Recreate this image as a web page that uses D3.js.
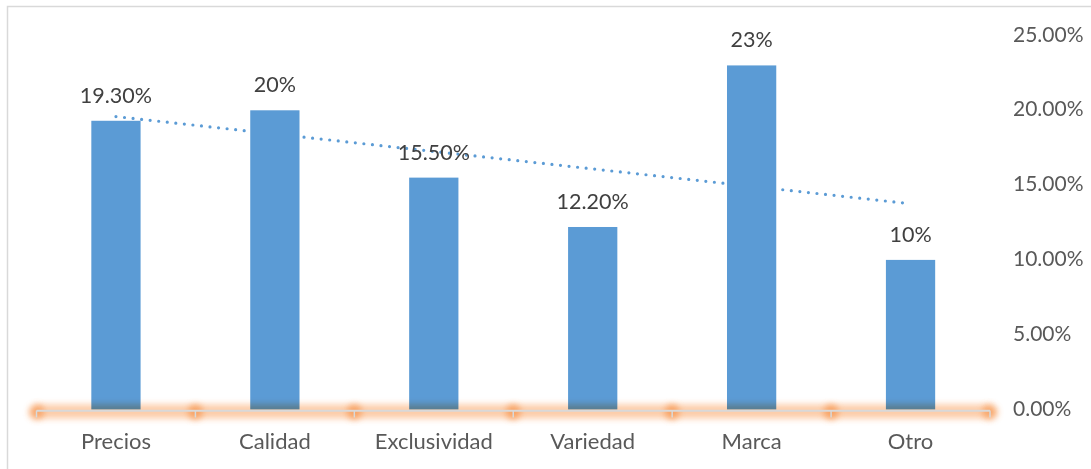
<!DOCTYPE html>
<html>
<head>
<meta charset="utf-8">
<script src="https://cdn.jsdelivr.net/npm/d3@7"></script>
<style>
  body { margin: 0; background: #fff; }
  svg { display: block; font-family: Lato, "Open Sans", sans-serif; }
</style>
</head>
<body>
<svg id="chart"></svg>
<script>
// data
var categories = ["Precios", "Calidad", "Exclusividad", "Variedad", "Marca", "Otro"];
var values = [0.193, 0.20, 0.155, 0.122, 0.23, 0.10];
var valueLabels = ["19.30%", "20%", "15.50%", "12.20%", "23%", "10%"];
var yTicks = [0, 0.05, 0.10, 0.15, 0.20, 0.25];

var W = 1091, H = 469;
var svg = d3.select("#chart").attr("width", W).attr("height", H);

// outer frame
svg.append("rect")
    .attr("x", 7.5).attr("y", 6.5)
    .attr("width", W + 20).attr("height", H + 20)
    .style("fill", "#fff")
    .style("stroke", "#d9d9d9")
    .style("stroke-width", 1.5);

var x = d3.scaleBand()
    .domain(categories)
    .range([36.5, 990])
    .paddingInner(0.69)
    .paddingOuter(0.345);

var y = d3.scaleLinear()
    .domain([0, 0.25])
    .range([409.5, 35.5]);

var defs = svg.append("defs");
var blur = defs.append("filter").attr("id", "glow")
    .attr("filterUnits", "userSpaceOnUse")
    .attr("x", 0).attr("y", 370).attr("width", W).attr("height", 80);
blur.append("feGaussianBlur").attr("stdDeviation", 3);

// linear trendline (least squares on the values)
var n = values.length;
var xs = d3.range(1, n + 1);
var mx = d3.mean(xs), my = d3.mean(values);
var slope = d3.sum(xs, function(d, i) { return (d - mx) * (values[i] - my); }) /
            d3.sum(xs, function(d) { return (d - mx) * (d - mx); });
var icpt = my - slope * mx;
var cx = function(i) { return x(categories[i]) + x.bandwidth() / 2; };

svg.append("line")
    .attr("x1", cx(0)).attr("y1", y(icpt + slope * 1))
    .attr("x2", cx(n - 1)).attr("y2", y(icpt + slope * n))
    .style("stroke", "#5b9bd5")
    .style("stroke-width", 3.2)
    .style("stroke-linecap", "round")
    .style("stroke-dasharray", "0 8.6");

// bars
svg.append("g").selectAll("rect")
    .data(values)
    .enter().append("rect")
    .attr("x", function(d, i) { return x(categories[i]); })
    .attr("y", function(d) { return y(d); })
    .attr("width", x.bandwidth())
    .attr("height", function(d) { return y(0) - y(d); })
    .style("fill", "#5b9bd5");

// glowing category axis
var tickXs = categories.map(function(c) { return x(c) - x.step() * x.paddingInner() / 2; });
tickXs.push(990);
tickXs[0] = 36.5;

var glow = svg.append("g").style("mix-blend-mode", "multiply");
glow.append("line")
    .attr("x1", 36.5).attr("x2", 990)
    .attr("y1", y(0) + 2).attr("y2", y(0) + 2)
    .style("stroke", "#fcbf93")
    .style("stroke-width", 14)
    .style("opacity", 0.8)
    .attr("filter", "url(#glow)");
glow.selectAll("circle")
    .data(tickXs)
    .enter().append("circle")
    .attr("cx", function(d) { return d; })
    .attr("cy", y(0) + 2.5)
    .attr("r", 7.5)
    .style("fill", "#f79a55")
    .style("opacity", 0.8)
    .attr("filter", "url(#glow)");

svg.append("line")
    .attr("x1", 36.5).attr("x2", 990)
    .attr("y1", y(0) + 1.2).attr("y2", y(0) + 1.2)
    .style("stroke", "#d9d9d9")
    .style("stroke-width", 2);
svg.append("g").selectAll("line")
    .data(tickXs)
    .enter().append("line")
    .attr("x1", function(d) { return d; }).attr("x2", function(d) { return d; })
    .attr("y1", y(0) + 1).attr("y2", y(0) + 8)
    .style("stroke", "#d9d9d9")
    .style("stroke-width", 1.5);

// category labels
svg.append("g").selectAll("text")
    .data(categories)
    .enter().append("text")
    .attr("x", function(d) { return x(d) + x.bandwidth() / 2; })
    .attr("y", 449)
    .attr("text-anchor", "middle")
    .style("font-size", "22px")
    .style("fill", "#595959")
    .text(function(d) { return d; });

// right value axis labels
svg.append("g").selectAll("text")
    .data(yTicks)
    .enter().append("text")
    .attr("x", 1013)
    .attr("y", function(d) { return y(d) + 6; })
    .style("font-size", "21px")
    .style("fill", "#595959")
    .text(function(d) { return d3.format(".2%")(d); });

// data labels
svg.append("g").selectAll("text")
    .data(values)
    .enter().append("text")
    .attr("x", function(d, i) { return cx(i); })
    .attr("y", function(d) { return y(d) - 18; })
    .attr("text-anchor", "middle")
    .style("font-size", "21.5px")
    .style("fill", "#404040")
    .text(function(d, i) { return valueLabels[i]; });
</script>
</body>
</html>
